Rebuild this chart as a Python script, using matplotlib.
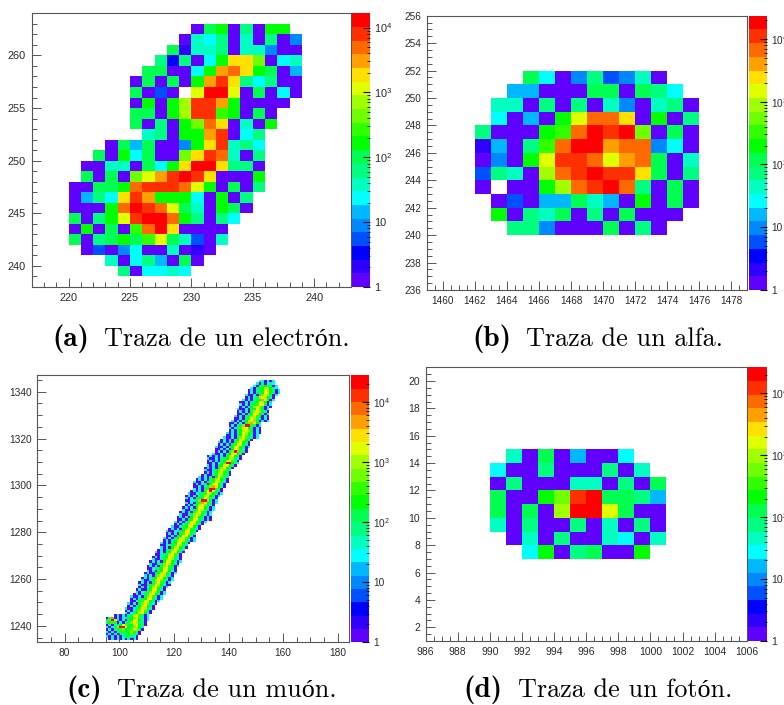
import numpy as np
import matplotlib
matplotlib.use("Agg")
import matplotlib.pyplot as plt
from matplotlib.colors import ListedColormap, BoundaryNorm
from matplotlib.ticker import MultipleLocator, FixedLocator, NullFormatter

W, H = 784, 705

# ROOT palette, one colour per level of the z scale (low to high)
palette = ["#6000ff", "#3000ff", "#0000ff", "#0050ff", "#0088ff", "#00b8ff", "#00ffff",
           "#00ffc0", "#00ff80", "#00ff50", "#00ff00", "#30ff00", "#70ff00", "#a0ff00",
           "#e0ff00", "#ffe000", "#ffa000", "#ff6a00", "#ff3000", "#ff0000"]

# Cells: one character per cell, the z level in base 20, '.' = empty.
# First string is the top row.
electron_rows = [
    "..........09a080aa", ".........0768070804", "........91778077400",
    ".......82806affc067", "......99006aghfa905", ".....09090agif86800",
    ".....9030.ejje09060", ".....0a0adiiga0000", ".....990adiiba090",
    ".....9080achf070a", "......780aagi068", "...0959004afi786",
    "..90a6900cfih708", ".0077096afjjf880", ".9090cegijif000a",
    "0099ahiiihea0908", "0586figaaa60a08", "000ahjihe970a90",
    "908aeijjha8086", "0a090bhjf0000", "9089a9be97307",
    ".03046007010", "...70685090", "....806676",
]
alpha_rows = [
    "...960483470", "..55000990986", ".7708080740780", ".6050aehhf0a08",
    "8000abhjijc090", "1508bhjjghh460", "040aeiihegh907", "3870dhijiif908",
    "0.00adhijh8090", ".030559750a090", ".a08790809000", "..8840009080",
]
photon_rows = [
    ".70905006", "6008000807", "08000770809", "900acij9985",
    "9090djje900", "70800807080", ".0708007607", "..6a08900a",
]

muon_x0 = [151, 150, 149, 148, 147, 147, 146, 146, 145, 144, 144, 144, 143, 143, 143, 142,
           142, 141, 140, 140, 140, 140, 139, 139, 138, 137, 136, 136, 135, 135, 135, 134,
           132, 132, 132, 132, 132, 131, 131, 131, 130, 129, 128, 127, 127, 127, 127, 126,
           125, 124, 124, 124, 124, 124, 123, 123, 122, 122, 121, 121, 120, 120, 119, 118,
           117, 117, 117, 116, 116, 115, 115, 115, 114, 113, 113, 112, 112, 111, 111, 110,
           110, 110, 109, 109, 108, 108, 107, 107, 107, 106, 106, 105, 104, 104, 104, 103,
           103, 102, 102, 102, 98, 95, 95, 95, 95, 95, 95, 95, 95, 95, 96]
muon_rows = [
    "670607", "7080686", "6089a9806", "6099adea86", "07089aeda806", "06098aefa907",
    "700809cfc907", "06079dfda80", "706089agf906", "007089aeda09", "607089bfe906",
    "0608adfc9070", "700609aed906", "060709dfc980", "00608aefa907", "706089cfb9070",
    "00709bed98060", "60708adfc90706", "0060709cgfa8", "06089cjjb806", "7079bfea8070",
    "0608adec9060", "70708aeda8060", "00609aeca807", "700709cfb9806", "060708aeda80",
    "7060909cfa80", "060709bfea80", "700708aefa806", "006070aed970", "060709cjgb80",
    "700609afea80", "06070709cea80", "7006089aed970", "060708adfb80", "007069bjja86",
    "70609afea80", "060709cfa80", "70089bec97", "0607adea90", "07008aed980",
    "706090aec98", "060708adfa80", "7006089bfd970", "060790aeea80", "007089cgfa80",
    "60609bjjb80", "070709eje980", "700689bfda806", "0607089dfa807", "607089aed980",
    "00689cjjc907", "70709bgfa806", "0608adfc980", "07060aeea807", "70089bfd9806",
    "060709ceb907", "70089cfd9706", "06070adfa8070", "00709afe98060", "70608befa907",
    "06079cfd980", "70089aeea80", "060709cfb970", "700689afea80", "060709bfd98",
    "00709aeea80", "70608adfb907", "06089cfd9806", "70709aeea80", "00689bfd98",
    "6070adfa80", "07089cfc97", "70608aeea80", "00799dfb80", "06079aed980",
    "70089cfd970", "06070aefa806", "70089cfda80", "060709cfb907", "00689afe980",
    "70709aeea70", "06008adfa806", "70709cfd980", "06079afea807", "70089dfc9706",
    "060709cfb806", "70089bfda700", "0607adfb806", "07008afea80", "70689cfc907",
    "06079bfea806", "700709cfb807", "06089afe9806", "0079beea806", "70609cfc970",
    "0608adfa80", "70079bfd970", "06089cfb80", "7069aeea70", "0706089dfb806",
    "099070689acfb806", "9gjf90709aeea706", "8ab907089cfd980", "08079aec9adfa80",
    "7069cjjea9cea7", "06089bca9bfd90", "70708999ada80", "06060889ac970",
    "607060799870", "07060607060",
]

captions = ["(a)", "(b)", "(c)", "(d)"]
caption_text = ["Traza de un electrón.", "Traza de un alfa.", "Traza de un muón.", "Traza de un fotón."]
caption_x = [(52, 104), (472, 526), (66, 117), (463, 518)]
caption_y = [339, 339, 690, 690]


def rows_to_grid(rows, starts, width):
    grid = np.full((len(rows), width), np.nan)
    for i, (row, x0) in enumerate(zip(rows, starts)):
        for j, ch in enumerate(row):
            if ch != ".":
                grid[len(rows) - 1 - i, x0 + j] = int(ch, 20)
    return grid


def px_axes(fig, x0, y0, x1, y1):
    # pixel box, y measured from the top of the image
    return fig.add_axes([x0 / W, 1 - y1 / H, (x1 - x0) / W, (y1 - y0) / H])


def draw_panel(fig, box, cbox, grid, x_first, y_first, xlim, ylim, xmaj, xmin, ymaj, ymin, zmax, fs):
    cmap = ListedColormap(palette)
    norm = BoundaryNorm(np.arange(-0.5, 20.5), 20)
    ax = px_axes(fig, *box)
    xe = x_first + np.arange(grid.shape[1] + 1)
    ye = y_first + np.arange(grid.shape[0] + 1)
    ax.pcolormesh(xe, ye, np.ma.masked_invalid(grid), cmap=cmap, norm=norm, antialiased=False)
    ax.set_xlim(*xlim)
    ax.set_ylim(*ylim)
    ax.xaxis.set_major_locator(MultipleLocator(xmaj))
    ax.xaxis.set_minor_locator(MultipleLocator(xmin))
    ax.yaxis.set_major_locator(MultipleLocator(ymaj))
    ax.yaxis.set_minor_locator(MultipleLocator(ymin))
    ax.tick_params(which="major", direction="in", length=6.5, width=0.7, color="#555555",
                   labelsize=fs, labelcolor="#2a2a2a", pad=4)
    ax.tick_params(which="minor", direction="in", length=3.5, width=0.7, color="#555555")
    for s in ax.spines.values():
        s.set_color("#555555")
        s.set_linewidth(0.8)

    # colour bar: 20 bands on a log scale
    cax = px_axes(fig, *cbox)
    bounds = np.logspace(0, np.log10(zmax), 21)
    cax.pcolormesh([0, 1], bounds, np.arange(20).reshape(-1, 1), cmap=cmap, norm=norm, antialiased=False)
    cax.set_yscale("log")
    cax.set_ylim(1, zmax)
    cax.set_xlim(0, 1)
    cax.set_xticks([])
    cax.yaxis.tick_right()
    decades = [1, 10, 100, 1000, 10000]
    cax.yaxis.set_major_locator(FixedLocator(decades))
    cax.set_yticklabels(["1", "10", "$\\mathdefault{10^{2}}$", "$\\mathdefault{10^{3}}$", "$\\mathdefault{10^{4}}$"])
    minors = [m * d for d in decades for m in range(2, 10) if m * d < zmax]
    cax.yaxis.set_minor_locator(FixedLocator(minors))
    cax.yaxis.set_minor_formatter(NullFormatter())
    cax.tick_params(which="major", axis="y", direction="in", length=5, width=0.8, labelsize=fs,
                    labelcolor="#2a2a2a", pad=3)
    cax.tick_params(which="minor", axis="y", direction="in", length=2.5, width=0.6)
    for s in cax.spines.values():
        s.set_visible(False)


plt.rcParams["font.family"] = ["Liberation Sans", "DejaVu Sans"]
fig = plt.figure(figsize=(W / 100, H / 100), dpi=100, facecolor="white")

electron = rows_to_grid(electron_rows, [0] * len(electron_rows), 19)
alpha = rows_to_grid(alpha_rows, [0] * len(alpha_rows), 14)
photon = rows_to_grid(photon_rows, [0] * len(photon_rows), 11)
muon = rows_to_grid(muon_rows, [x - 95 for x in muon_x0], 64)

draw_panel(fig, (31.7, 13.3, 351, 287), (352, 13.3, 370.3, 287), electron, 220, 239,
           (217, 243), (238, 264), 5, 1, 5, 1, 16600, 7.9)
draw_panel(fig, (426.7, 15.7, 747.3, 290), (749, 15.7, 767.3, 290), alpha, 1462, 240,
           (1459, 1479), (236, 256), 2, 0.5, 2, 0.5, 23400, 7.2)
draw_panel(fig, (37.3, 375.3, 348.7, 642.3), (350.7, 375.3, 368.7, 642.3), muon, 95, 1234,
           (70, 184), (1233, 1347), 20, 5, 20, 5, 27500, 7.3)
draw_panel(fig, (425.7, 367.3, 746.7, 641), (748, 367.3, 766.7, 641), photon, 990, 7,
           (986, 1006), (1, 21), 2, 0.5, 2, 0.5, 26300, 7.5)

for label, text, (xa, xb), y in zip(captions, caption_text, caption_x, caption_y):
    fig.text(xa / W, 1 - y / H, label, family=["cmb10", "Liberation Serif"], fontsize=21, va="center", color="black")
    fig.text(xb / W, 1 - y / H, text, family=["cmr10", "Liberation Serif"], fontsize=18.8, va="center", color="black")

fig.savefig("out.png", dpi=100)
